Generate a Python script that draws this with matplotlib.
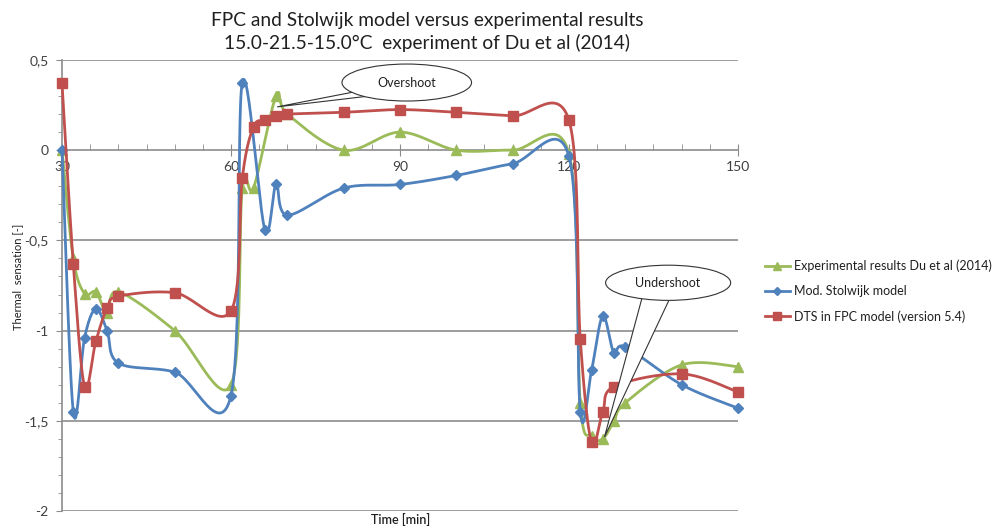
import numpy as np
import matplotlib
matplotlib.use("Agg")
import matplotlib.pyplot as plt
from matplotlib.lines import Line2D
from matplotlib.patches import Ellipse, Polygon
from matplotlib.ticker import MultipleLocator, FixedLocator, FuncFormatter

plt.rcParams['font.family'] = ['Lato', 'DejaVu Sans']

# Experimental results, Du et al (2014)
exp_t = [30, 32, 34, 36, 38, 40, 50, 60, 62, 64, 68, 70, 80, 90, 100, 110, 120,
         122, 124, 126, 128, 130, 140, 150]
exp_v = [0.0, -0.60, -0.795, -0.785, -0.90, -0.785, -1.00, -1.30, -0.21, -0.21,
         0.30, 0.20, 0.0, 0.10, 0.0, 0.0, -0.02,
         -1.40, -1.585, -1.60, -1.50, -1.40, -1.19, -1.20]

# Modified Stolwijk model
sto_t = [30, 32, 34, 36, 38, 40, 50, 60, 62, 66, 68, 70, 80, 90, 100, 110, 120,
         122, 124, 126, 128, 130, 140, 150]
sto_v = [0.0, -1.45, -1.04, -0.88, -1.00, -1.18, -1.23, -1.36, 0.375, -0.44,
         -0.19, -0.36, -0.21, -0.19, -0.14, -0.075, -0.035,
         -1.45, -1.22, -0.92, -1.125, -1.09, -1.30, -1.43]

# DTS in FPC model (version 5.4)
fpc_t = [30, 32, 34, 36, 38, 40, 50, 60, 62, 64, 66, 68, 70, 80, 90, 100, 110,
         120, 122, 124, 126, 128, 140, 150]
fpc_v = [0.37, -0.63, -1.31, -1.06, -0.875, -0.81, -0.79, -0.89, -0.155, 0.13,
         0.165, 0.19, 0.20, 0.21, 0.225, 0.21, 0.19, 0.165,
         -1.045, -1.62, -1.45, -1.31, -1.24, -1.34]

series_labels = ["Experimental results Du et al (2014)",
                 "Mod. Stolwijk model",
                 "DTS in FPC model (version 5.4)"]
x_ticks = [30, 60, 90, 120, 150]
y_ticks = [0.5, 0, -0.5, -1, -1.5, -2]

GREEN = "#9BBB59"
BLUE = "#4F81BD"
RED = "#C0504D"
GRID = "#8C8C8C"
TXT = "#404040"

fig = plt.figure(figsize=(10.02, 5.28), dpi=100)
ax = fig.add_axes([0.0619, 0.0322, 0.6746, 0.8542])
ax.set_xlim(30, 150)
ax.set_ylim(-2, 0.5)


def smooth(ax, t, v, n=30):
    """Parametric Catmull-Rom smoothing done in display space."""
    pts = ax.transData.transform(np.column_stack([t, v]))
    out = [pts[0]]
    m = len(pts)
    for i in range(m - 1):
        p0 = pts[i - 1] if i > 0 else pts[i]
        p1 = pts[i]
        p2 = pts[i + 1]
        p3 = pts[i + 2] if i + 2 < m else pts[i + 1]
        c1 = p1 + (p2 - p0) / 6.0
        c2 = p2 - (p3 - p1) / 6.0
        s = np.linspace(0, 1, n)[1:, None]
        seg = ((1 - s) ** 3) * p1 + 3 * ((1 - s) ** 2) * s * c1 \
            + 3 * (1 - s) * s ** 2 * c2 + s ** 3 * p2
        out.extend(seg)
    out = np.array(out)
    data = ax.transData.inverted().transform(out)
    return data[:, 0], data[:, 1]


series = [
    (exp_t, exp_v, GREEN, "^", 7.5),
    (sto_t, sto_v, BLUE, "D", 5.0),
    (fpc_t, fpc_v, RED, "s", 7.0),
]
handles = []
for k, (t, v, col, mk, ms) in enumerate(series):
    sx, sy = smooth(ax, t, v)
    ax.plot(sx, sy, color=col, lw=2.0, zorder=3 + k, clip_on=False,
            solid_capstyle='round')
    ax.plot(t, v, linestyle='none', marker=mk, ms=ms, color=col,
            markeredgecolor=col, zorder=3 + k, clip_on=False)
    handles.append(Line2D([], [], color=col, lw=2.0, marker=mk, ms=ms * 0.85,
                          markeredgecolor=col))

# horizontal gridlines
for yv in y_ticks:
    if yv != 0:
        ax.axhline(yv, color=GRID, lw=1.2, zorder=1)

# axes styling: horizontal axis crosses at zero
for s in ['top', 'right']:
    ax.spines[s].set_visible(False)
ax.spines['bottom'].set_position(('data', 0))
ax.spines['bottom'].set_color(GRID)
ax.spines['left'].set_color(GRID)
ax.spines['bottom'].set_linewidth(1.2)
ax.spines['left'].set_linewidth(1.2)
ax.spines['bottom'].set_zorder(2)

ax.xaxis.set_major_locator(FixedLocator(x_ticks))
ax.xaxis.set_minor_locator(MultipleLocator(5))
ax.yaxis.set_major_locator(FixedLocator(y_ticks))
ax.yaxis.set_minor_locator(MultipleLocator(0.1))
ax.tick_params(axis='x', which='major', direction='inout', length=8,
               color=GRID, labelsize=10, labelcolor=TXT, pad=4)
ax.tick_params(axis='x', which='minor', direction='in', length=4, color=GRID)
ax.tick_params(axis='y', which='major', direction='out', length=4,
               color=GRID, labelsize=10, labelcolor=TXT, pad=5.5)
ax.tick_params(axis='y', which='minor', direction='out', length=3, color=GRID)
ax.yaxis.set_major_formatter(FuncFormatter(
    lambda y, _: ("%g" % y).replace('.', ',')))

# axis titles
fig.text(0.4, 0.016, "Time [min]", ha='center', va='center',
         fontsize=9, color="#202020", fontweight='semibold')
fig.text(0.018, 0.475, "Thermal  sensation [-]", ha='center', va='center',
         rotation=90, fontsize=8, color="#202020")

# title
fig.text(0.426, 0.962, "FPC and Stolwijk model versus experimental results",
         ha='center', va='center', fontsize=13.8, color="#202020")
fig.text(0.426, 0.918, "15.0-21.5-15.0°C  experiment of Du et al (2014)",
         ha='center', va='center', fontsize=13.8, color="#202020")

# callouts
def callout(ax, center, w, h, text, tail_base, tip):
    tail = Polygon([tail_base[0], tip, tail_base[1]], closed=True,
                   facecolor='white', edgecolor='#333333', lw=0.8,
                   zorder=10, clip_on=False)
    ax.add_patch(tail)
    ell = Ellipse(center, w, h, facecolor='white', edgecolor='#333333',
                  lw=0.8, zorder=11, clip_on=False)
    ax.add_patch(ell)
    ax.text(center[0], center[1], text, ha='center', va='center',
            fontsize=9, color="#202020", zorder=12)

callout(ax, (91.2, 0.375), 23.0, 0.205, "Overshoot",
        [(83.0, 0.33), (84.5, 0.30)], (68.2, 0.24))
callout(ax, (137.6, -0.735), 22.2, 0.195, "Undershoot",
        [(133.0, -0.815), (138.0, -0.815)], (126.3, -1.59))

fig.legend(handles, series_labels, loc='upper left',
           bbox_to_anchor=(0.752, 0.53), frameon=False, fontsize=9,
           handlelength=2.0, handletextpad=0.3, labelspacing=1.05,
           labelcolor="#202020")

fig.savefig("out.png", dpi=100, facecolor='white')
